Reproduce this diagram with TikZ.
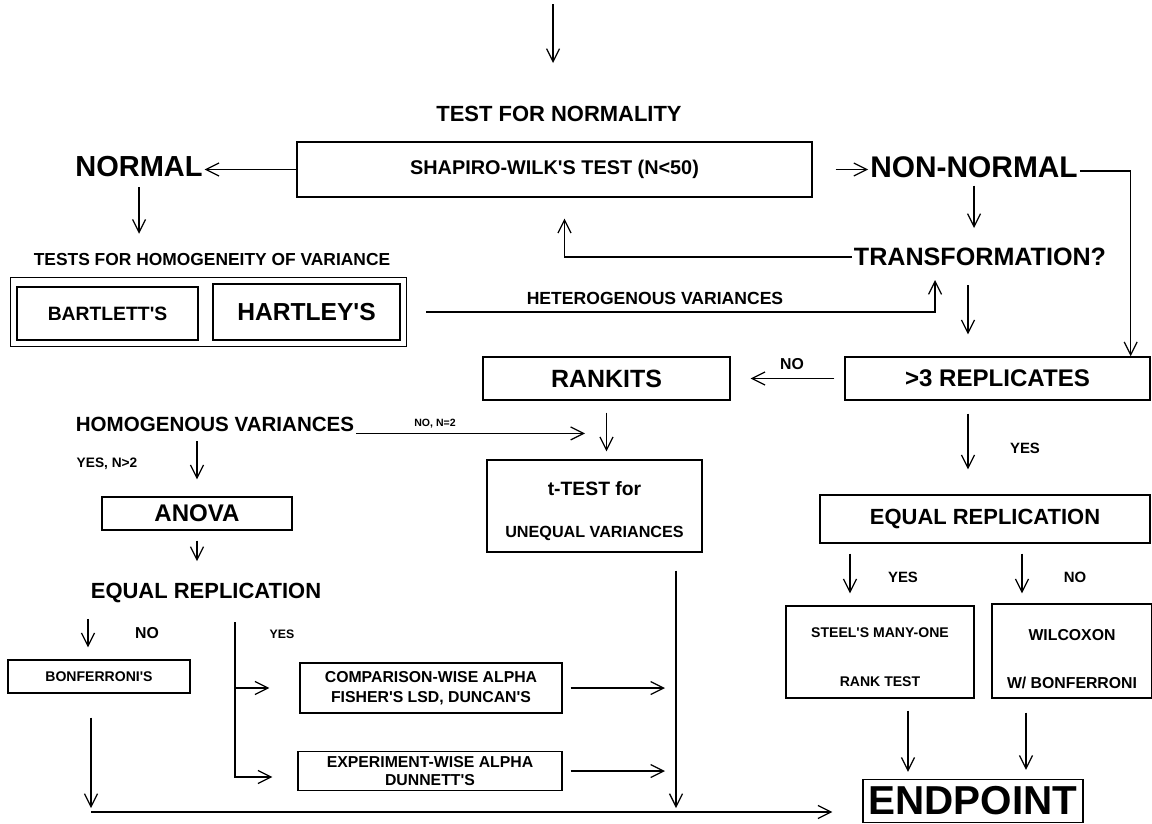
\documentclass[tikz,border=0pt]{standalone}
\usepackage{fontspec}
\setmainfont{Liberation Sans}[Ligatures=TeXOff]
\usetikzlibrary{positioning, fit, arrows.meta}
\newcommand{\fsz}[1]{\fontsize{#1}{#1}\selectfont\bfseries}
\tikzstyle{box}=[rectangle, draw=black, line width=0.8pt, inner sep=0pt, align=center]
\tikzstyle{heading}=[inner sep=1pt]
\tikzstyle{tag}=[inner sep=0pt]
\tikzstyle{wire}=[line width=0.7pt]
\tikzstyle{flow}=[wire, -{Straight Barb[length=2.6mm, width=2.6mm]}]

\begin{document}
\begin{tikzpicture}[x=0.02cm, y=-0.02cm]
    \useasboundingbox (0,0) rectangle (1152,823);

    % Normalite
    \coordinate (start) at (553,4);
    \coordinate (startend) at (553,63);
    \node[heading, font=\fsz{12.5}] (tfn) at (559,114) {TEST FOR NORMALITY};
    \node[box, minimum width=10.3cm, minimum height=1.1cm, font=\fsz{11.3}] (shapiro) at (554.5,169.5) {SHAPIRO-WILK'S TEST (N<50)};
    \node[heading, font=\fsz{16.5}] (normal) at (139,167) {NORMAL};
    \node[heading, font=\fsz{17}] (nonnormal) at (974,167) {NON-NORMAL};
    \node[heading, font=\fsz{14.3}] (trans) at (980,257) {TRANSFORMATION?};
    \draw[flow] (start) -- (startend);
    \draw[flow] (shapiro.west) -- (shapiro.west -| normal.east);
    \draw[flow, shorten <=0.46cm] (shapiro.east) -- (shapiro.east -| nonnormal.west);
    \draw[flow, shorten <=0.12cm, shorten >=0.36cm] (nonnormal.south) -- (nonnormal.south |- trans.north);
    \draw[flow, shorten >=0.42cm] (trans.west) -| ([xshift=0.2cm]shapiro.south);

    % Homogeneite de la variance
    \node[heading, font=\fsz{9.9}] (tfh) at (212,259) {TESTS FOR HOMOGENEITY OF VARIANCE};
    \node[box, minimum width=3.62cm, minimum height=1.06cm, font=\fsz{11}] (bart) at (107.5,313.5) {BARTLETT'S};
    \node[box, minimum width=3.74cm, minimum height=1.12cm, font=\fsz{14}] (hart) at (306.5,312) {HARTLEY'S};
    \node[box, fit=(bart)(hart), inner sep=0.12cm] (homtest) {};
    \node[heading, font=\fsz{10}] (hetero) at (655,298) {HETEROGENOUS VARIANCES};
    \draw[flow, shorten <=0.16cm, shorten >=0.34cm] (normal.south) -- (normal.south |- tfh.north);
    \draw[flow, shorten <=0.38cm, shorten >=0.24cm] (homtest.east) -| ([xshift=-0.9cm]trans.south);

    % Branche non normale
    \node[box, minimum width=6.1cm, minimum height=0.86cm, font=\fsz{13.7}] (repl3) at (997.5,378.5) {>3 REPLICATES};
    \node[box, minimum width=4.94cm, minimum height=0.86cm, font=\fsz{14.2}] (rankits) at (606.5,378.5) {RANKITS};
    \node[tag, font=\fsz{9}] (no1) at (792,364) {NO};
    \draw[flow] ([yshift=-0.08cm]nonnormal.east) -| ([xshift=-0.4cm]repl3.north east);
    \draw[flow, shorten <=0.34cm, shorten >=0.44cm] ([xshift=-0.24cm]trans.south) -- ([xshift=-0.24cm]trans.south |- repl3.north);
    \draw[flow, shorten <=0.2cm, shorten >=0.4cm] (repl3.west) -- (rankits.east);

    % t-test
    \node[box, minimum width=4.3cm, minimum height=1.84cm, font=\fsz{9.2}] (ttest) at (594.5,506) {{\fsz{11}\rule{0pt}{13.5pt}t-TEST for}\\[14.6pt]UNEQUAL VARIANCES};
    \draw[flow, shorten <=0.24cm, shorten >=0.16cm] (rankits.south) -- (rankits.south |- ttest.north);

    % Variances homogenes
    \node[heading, font=\fsz{11.7}] (homvar) at (215,424) {HOMOGENOUS VARIANCES};
    \node[tag, font=\fsz{6}] (non2) at (435,424) {NO, N=2};
    \node[tag, font=\fsz{7.8}] (yesn2) at (107,464) {YES, N>2};
    \node[box, minimum width=3.8cm, minimum height=0.66cm, font=\fsz{13.7}] (anova) at (197,513.5) {ANOVA};
    \node[heading, font=\fsz{12.5}] (eqrep1) at (206,593) {EQUAL REPLICATION};
    \draw[flow, shorten >=0.19cm] (homvar.south east) -- (homvar.south east -| ttest.north);
    \draw[flow, shorten <=0.16cm, shorten >=0.34cm] (anova.north |- homvar.south) -- (anova.north);
    \draw[flow, shorten <=0.2cm, shorten >=0.4cm] (anova.south) -- (anova.south |- eqrep1.north);

    % Comparaisons multiples
    \node[box, minimum width=3.64cm, minimum height=0.66cm, font=\fsz{8}] (bonf) at (99,676.5) {BONFERRONI'S};
    \node[box, minimum width=5.24cm, minimum height=1.0cm, font=\fsz{9}] (comp) at (431,688) {COMPARISON-WISE ALPHA\\[2.3pt]FISHER'S LSD, DUNCAN'S};
    \node[box, minimum width=5.28cm, minimum height=0.78cm, font=\fsz{9}] (exper) at (430,771) {EXPERIMENT-WISE ALPHA\\[0.8pt]DUNNETT'S};
    \node[tag, font=\fsz{9}] (no2) at (147,633) {NO};
    \node[tag, font=\fsz{7}] (yes1) at (282,634) {YES};
    \coordinate (yesfork) at (235,622);
    \coordinate (ttfoot) at (676,808);
    \coordinate (bonffoot) at (91,808);
    \coordinate (busstart) at (91,812);
    \draw[flow, shorten <=0.28cm, shorten >=0.24cm] ([xshift=-0.22cm]bonf.north |- eqrep1.south) -- ([xshift=-0.22cm]bonf.north);
    \draw[flow, shorten >=0.5cm] (yesfork) |- ([yshift=-0.12cm]exper.west);
    \draw[flow, shorten >=0.6cm] (yesfork |- comp.west) -- (comp.west);
    \draw[flow, shorten <=0.48cm] (bonf.south -| bonffoot) -- (bonffoot);
    \draw[flow, shorten <=0.36cm] (ttest.south -| ttfoot) -- (ttfoot);
    \draw[flow, shorten <=0.16cm, shorten >=0.22cm] (comp.east) -- (comp.east -| ttfoot);
    \draw[flow, shorten <=0.16cm, shorten >=0.22cm] (exper.east) -- (exper.east -| ttfoot);

    % Tests non parametriques
    \node[box, minimum width=6.6cm, minimum height=0.96cm, font=\fsz{12.5}] (eqrep2) at (985,519) {EQUAL REPLICATION};
    \node[box, minimum width=3.76cm, minimum height=1.84cm, font=\fsz{8}] (steel) at (880,652) {\rule{0pt}{11.3pt}STEEL'S MANY-ONE\\[20pt]RANK TEST};
    \node[box, minimum width=3.2cm, minimum height=1.88cm, font=\fsz{9}] (wilc) at (1072,651) {\rule{0pt}{15.4pt}WILCOXON\\[18pt]W/ BONFERRONI};
    \node[box, minimum width=4.4cm, minimum height=0.86cm, font=\fsz{23}] (endpoint) at (973,801) {ENDPOINT};
    \node[tag, font=\fsz{8.5}] (yes2) at (1025,448) {YES};
    \node[tag, font=\fsz{8.5}] (yes3) at (903,577) {YES};
    \node[tag, font=\fsz{8.5}] (no3) at (1075,577) {NO};
    \draw[flow, shorten <=0.26cm, shorten >=0.5cm] ([xshift=-0.59cm]repl3.south) -- ([xshift=-0.59cm]repl3.south |- eqrep2.north);
    \draw[flow, shorten <=0.2cm, shorten >=0.24cm] ([xshift=-0.6cm]steel.north |- eqrep2.south) -- ([xshift=-0.6cm]steel.north);
    \draw[flow, shorten <=0.2cm, shorten >=0.2cm] ([xshift=-1cm]wilc.north |- eqrep2.south) -- ([xshift=-1cm]wilc.north);
    \draw[flow, shorten <=0.24cm, shorten >=0.14cm] ([xshift=0.56cm]steel.south) -- ([xshift=0.56cm]steel.south |- endpoint.north);
    \draw[flow, shorten <=0.28cm, shorten >=0.18cm] ([xshift=-0.92cm]wilc.south) -- ([xshift=-0.92cm]wilc.south |- endpoint.north);
    \draw[flow, shorten >=0.6cm] (busstart) -- (busstart -| endpoint.west);
\end{tikzpicture}
\end{document}
